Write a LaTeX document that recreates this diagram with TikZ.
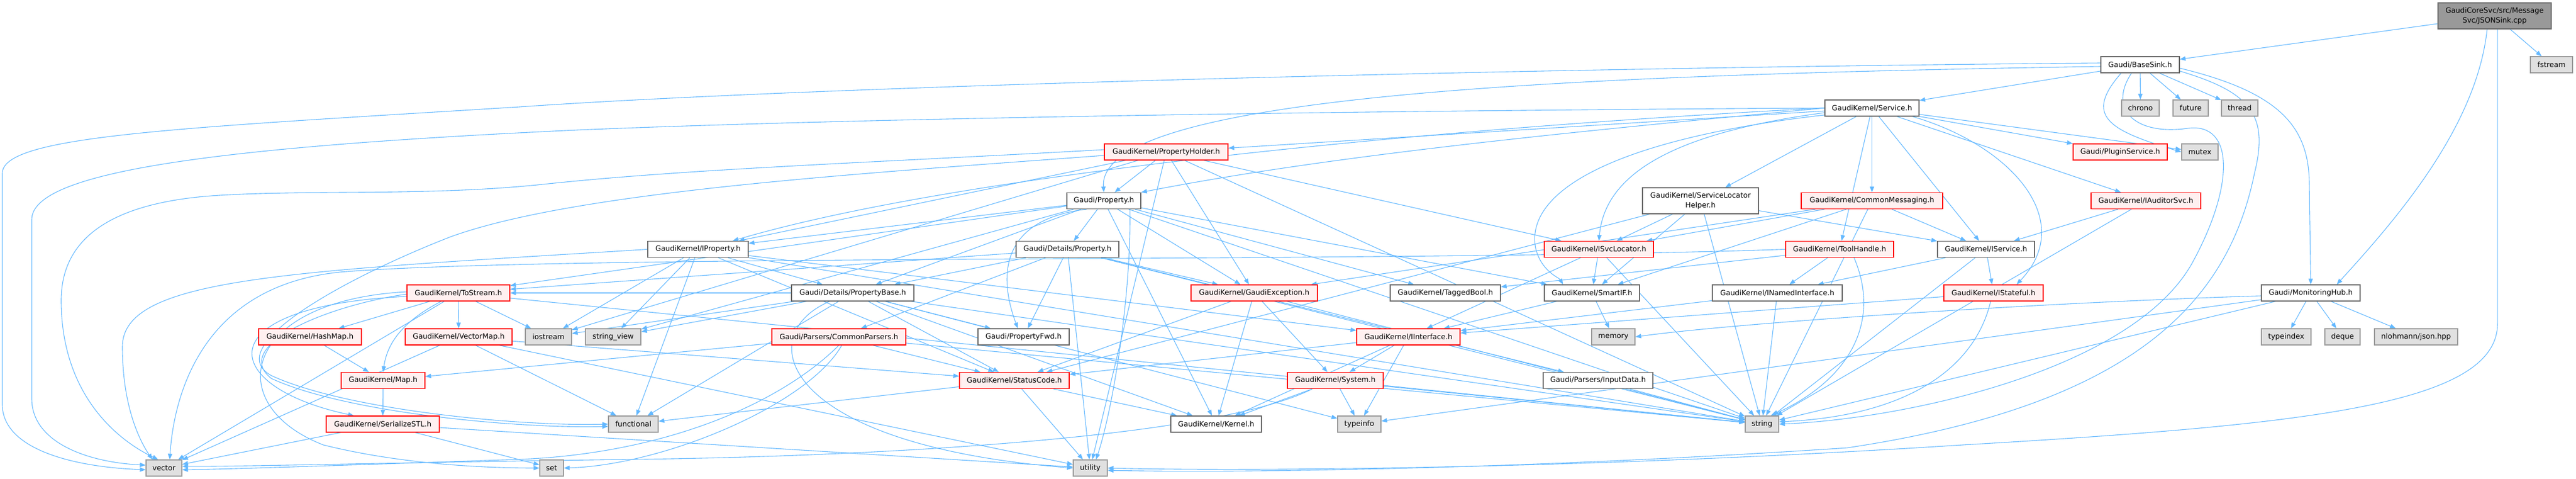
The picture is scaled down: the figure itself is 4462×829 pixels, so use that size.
\documentclass[tikz,border=0pt]{standalone}
\usepackage{fontspec}
\setmainfont{DejaVu Sans}
\usetikzlibrary{arrows.meta}
\definecolor{edgecol}{HTML}{63B8FF}
\definecolor{redfill}{HTML}{FFF0F0}
\definecolor{redline}{HTML}{FF0000}
\definecolor{grayfill}{HTML}{E0E0E0}
\definecolor{grayline}{HTML}{999999}
\definecolor{rootfill}{HTML}{999999}
\definecolor{wline}{HTML}{666666}
\pgfdeclarelayer{background}
\pgfsetlayers{background,main}
\tikzset{
  nbase/.style={rectangle, inner sep=0pt, minimum height=28bp, font=\fontsize{12.6}{17}\selectfont, line width=1.3bp, align=center},
  wbox/.style={nbase, draw=wline, fill=white},
  rbox/.style={nbase, draw=redline, fill=redfill},
  gbox/.style={nbase, draw=grayline, fill=grayfill},
  rootbox/.style={nbase, draw=wline, fill=rootfill, minimum height=45bp},
  dep/.style={draw=edgecol, line width=1.1bp, -{Triangle[length=10bp,width=7.5bp]}},
}
\begin{document}
\begin{tikzpicture}[x=1bp,y=-1bp]
\useasboundingbox (0,0) rectangle (4462,829);
\node[rootbox, minimum width=196bp] (jsonsink) at (4321,27.5) {GaudiCoreSvc/src/Message\\Svc/JSONSink.cpp};
\node[wbox, minimum width=136bp] (basesink) at (3707,112) {Gaudi/BaseSink.h};
\node[gbox, minimum width=73bp] (fstream) at (4419.5,112) {fstream};
\node[gbox, minimum width=65bp] (chrono) at (3707.5,187) {chrono};
\node[gbox, minimum width=61bp] (future) at (3794.5,187) {future};
\node[gbox, minimum width=63bp] (thread) at (3879.5,187) {thread};
\node[wbox, minimum width=163bp] (service) at (3242.5,187) {GaudiKernel/Service.h};
\node[rbox, minimum width=163bp] (pluginsvc) at (3672.5,263) {Gaudi/PluginService.h};
\node[gbox, minimum width=63bp] (mutex) at (3810.5,263) {mutex};
\node[rbox, minimum width=214bp] (propholder) at (2020,263) {GaudiKernel/PropertyHolder.h};
\node[wbox, minimum width=128bp] (property) at (1912,347.5) {Gaudi/Property.h};
\node[wbox, minimum width=201bp, minimum height=45bp] (slhelper) at (2945.5,347.5) {GaudiKernel/ServiceLocator\\Helper.h};
\node[rbox, minimum width=245bp] (commonmsg) at (3242.5,347.5) {GaudiKernel/CommonMessaging.h};
\node[rbox, minimum width=190bp] (iauditor) at (3717,347.5) {GaudiKernel/IAuditorSvc.h};
\node[wbox, minimum width=174bp] (iproperty) at (1209,431.5) {GaudiKernel/IProperty.h};
\node[wbox, minimum width=178bp] (detprop) at (1849,431.5) {Gaudi/Details/Property.h};
\node[rbox, minimum width=189bp] (isvcloc) at (2769.5,431.5) {GaudiKernel/ISvcLocator.h};
\node[rbox, minimum width=187bp] (toolhandle) at (3186.5,431.5) {GaudiKernel/ToolHandle.h};
\node[wbox, minimum width=168bp] (iservice) at (3440,431.5) {GaudiKernel/IService.h};
\node[rbox, minimum width=178bp] (tostream) at (794,507) {GaudiKernel/ToStream.h};
\node[wbox, minimum width=212bp] (propbase) at (1477,507) {Gaudi/Details/PropertyBase.h};
\node[rbox, minimum width=219bp] (gaudiexc) at (2172.5,507) {GaudiKernel/GaudiException.h};
\node[wbox, minimum width=191bp] (taggedbool) at (2503.5,507) {GaudiKernel/TaggedBool.h};
\node[wbox, minimum width=165bp] (smartif) at (2757.5,507) {GaudiKernel/SmartIF.h};
\node[wbox, minimum width=225bp] (inamed) at (3078.5,507) {GaudiKernel/INamedInterface.h};
\node[rbox, minimum width=172bp] (istateful) at (3453,507) {GaudiKernel/IStateful.h};
\node[wbox, minimum width=171bp] (monhub) at (4002.5,507) {Gaudi/MonitoringHub.h};
\node[rbox, minimum width=178bp] (hashmap) at (537,583) {GaudiKernel/HashMap.h};
\node[rbox, minimum width=185bp] (vectormap) at (794.5,583) {GaudiKernel/VectorMap.h};
\node[gbox, minimum width=80bp] (iostream) at (950,583) {iostream};
\node[gbox, minimum width=96bp] (stringview) at (1062,583) {string\_view};
\node[rbox, minimum width=232bp] (commonparsers) at (1453,583) {Gaudi/Parsers/CommonParsers.h};
\node[wbox, minimum width=158bp] (propfwd) at (1773,583) {Gaudi/PropertyFwd.h};
\node[rbox, minimum width=179bp] (iinterface) at (2439.5,583) {GaudiKernel/IInterface.h};
\node[gbox, minimum width=75bp] (memory) at (2794.5,583) {memory};
\node[gbox, minimum width=86bp] (typeindex) at (3960,583) {typeindex};
\node[gbox, minimum width=61bp] (deque) at (4057.5,583) {deque};
\node[gbox, minimum width=144bp] (json) at (4185,583) {nlohmann/json.hpp};
\node[rbox, minimum width=145bp] (map) at (663.5,658.5) {GaudiKernel/Map.h};
\node[rbox, minimum width=190bp] (statuscode) at (1757,658.5) {GaudiKernel/StatusCode.h};
\node[rbox, minimum width=166bp] (system) at (2313,658.5) {GaudiKernel/System.h};
\node[wbox, minimum width=190bp] (inputdata) at (2768,658.5) {Gaudi/Parsers/InputData.h};
\node[rbox, minimum width=196bp] (serializestl) at (663,734) {GaudiKernel/SerializeSTL.h};
\node[gbox, minimum width=86bp] (functional) at (1097,734) {functional};
\node[wbox, minimum width=157bp] (kernel) at (2106.5,734) {GaudiKernel/Kernel.h};
\node[gbox, minimum width=75bp] (typeinfo) at (2354.5,734) {typeinfo};
\node[gbox, minimum width=58bp] (string) at (3052,734) {string};
\node[gbox, minimum width=62bp] (vector) at (284,810) {vector};
\node[gbox, minimum width=41bp] (set) at (955.5,810) {set};
\node[gbox, minimum width=59bp] (utility) at (1888.5,810) {utility};

\begin{pgfonlayer}{background}
% JSONSink.cpp
\draw[dep] (jsonsink) -- (basesink);
\draw[dep] (jsonsink) -- (fstream);
\draw[dep] ([xshift=-13bp]jsonsink.south) .. controls (4290,220) and (4150,380) .. ([xshift=45bp]monhub.north);
\draw[dep] ([xshift=5bp]jsonsink.south) -- (4326,560) .. controls (4326,700) and (4000,735) .. (3400,770) .. controls (2700,815) and (2100,815) .. (utility.east);
% BaseSink.h
\draw[dep] ([yshift=3bp]basesink.west) .. controls (2600,118) and (1400,150) .. (900,185) .. controls (300,222) and (4,235) .. (4,300) -- (4,700) .. controls (4,775) and (120,808) .. ([yshift=-3bp]vector.west);
\draw[dep] ([yshift=-3bp]basesink.west) .. controls (2700,130) and (1900,165) .. (property.north);
\draw[dep] (basesink) -- (service);
\draw[dep] (basesink) -- (chrono);
\draw[dep] (basesink) -- (future);
\draw[dep] (basesink) -- (thread);
\draw[dep] ([xshift=-33bp]basesink.south) .. controls (3610,200) and (3650,225) .. (mutex.west);
\draw[dep] ([xshift=-15bp]basesink.south) .. controls (3650,190) and (3700,235) .. (3790,222) .. controls (3870,212) and (3870,320) .. (3800,450) .. controls (3700,640) and (3300,725) .. (string.east);
\draw[dep] ([yshift=-6bp]basesink.east) .. controls (3950,160) and (4000,220) .. (4000,320) -- (monhub.north);
\draw[dep] ([yshift=-11bp]basesink.east) .. controls (3900,160) and (3930,200) .. (3905,300) .. controls (3860,520) and (3700,700) .. (3200,775) .. controls (2600,815) and (2100,818) .. ([yshift=-4bp]utility.east);
% Service.h
\draw[dep] (service.west) .. controls (2600,190) and (1600,200) .. (1000,225) .. controls (350,255) and (55,300) .. (55,380) -- (55,690) .. controls (55,765) and (150,800) .. ([yshift=5bp]vector.west);
\draw[dep] (service) -- (propholder);
\draw[dep] (service.west) .. controls (2700,230) and (2300,270) .. (property.north east);
\draw[dep] (service.west) .. controls (2600,215) and (1700,290) .. ([xshift=60bp]iproperty.north);
\draw[dep] (service) -- (slhelper);
\draw[dep] (service) -- (commonmsg);
\draw[dep] ([yshift=-8bp]service.west) .. controls (2900,230) and (2780,300) .. (isvcloc.north);
\draw[dep] (service) -- (iservice);
\draw[dep] ([xshift=70bp]service.south) .. controls (3480,250) and (3600,380) .. ([xshift=40bp]istateful.north);
\draw[dep] (service) -- (iauditor);
\draw[dep] (service) -- (pluginsvc);
\draw[dep] (service) -- (mutex);
\draw[dep] ([yshift=-12bp]service.west) .. controls (2800,240) and (2640,330) .. (2660,430) .. controls (2670,470) and (2700,480) .. ([xshift=-50bp]smartif.north);
\draw[dep] (service) -- (toolhandle);
% PropertyHolder.h
\draw[dep] ([yshift=4bp]propholder.west) .. controls (1500,282) and (1200,292) .. (950,318) .. controls (750,340) and (550,328) .. (380,338) .. controls (180,350) and (106,420) .. (106,520) .. controls (106,680) and (200,760) .. ([xshift=-10bp]vector.north);
\draw[dep] ([yshift=-6bp]propholder.west) .. controls (1500,300) and (1000,330) .. (780,410) .. controls (600,480) and (380,600) .. (470,650) .. controls (600,710) and (900,738) .. (functional.west);
\draw[dep] (propholder) -- (property);
\draw[dep] (propholder) -- (iproperty);
\draw[dep] (propholder) -- (gaudiexc);
\draw[dep] (propholder) -- (isvcloc);
\draw[dep] (propholder) -- (iostream);
\draw[dep] (propholder) -- (string);
\draw[dep] (propholder) -- (utility);
% MonitoringHub.h
\draw[dep] ([yshift=-5bp]monhub.west) .. controls (3500,525) and (3000,560) .. (memory.east);
\draw[dep] (monhub) -- (typeinfo);
\draw[dep] (monhub) -- (string);
\draw[dep] (monhub) -- (typeindex);
\draw[dep] (monhub) -- (deque);
\draw[dep] (monhub) -- (json);
% Property.h
\draw[dep] (property) -- (detprop);
\draw[dep] (property) -- (propbase);
\draw[dep] ([xshift=-30bp]property.south) .. controls (1730,380) and (1730,480) .. ([xshift=-10bp]propfwd.north);
\draw[dep] (property) -- (iproperty);
\draw[dep] (property) -- (smartif);
\draw[dep] (property) -- (taggedbool);
\draw[dep] (property) -- (tostream);
\draw[dep] (property) -- (gaudiexc);
\draw[dep] (property) -- (kernel);
\draw[dep] (property) -- (string);
\draw[dep] (property) -- (stringview);
\draw[dep] ([xshift=45bp]property.south) .. controls (1960,500) and (1930,700) .. ([xshift=10bp]utility.north);
% ServiceLocatorHelper.h
\draw[dep] (slhelper) -- (isvcloc);
\draw[dep] (slhelper) -- (smartif);
\draw[dep] (slhelper) -- (iservice);
\draw[dep] (slhelper) -- (string);
\draw[dep] (slhelper) -- (statuscode);
% CommonMessaging.h
\draw[dep] (commonmsg) -- (isvcloc);
\draw[dep] (commonmsg) -- (smartif);
\draw[dep] (commonmsg) -- (iservice);
\draw[dep] (commonmsg) -- (gaudiexc);
\draw[dep] (commonmsg) -- (string);
% IAuditorSvc.h
\draw[dep] (iauditor) -- (iservice);
\draw[dep] (iauditor) -- (string);
% IProperty.h
\draw[dep] (iproperty.west) .. controls (500,470) and (212,480) .. (212,600) .. controls (212,700) and (240,760) .. ([xshift=-20bp]vector.north);
\draw[dep] (iproperty) -- (iostream);
\draw[dep] (iproperty) -- (stringview);
\draw[dep] (iproperty) -- (functional);
\draw[dep] (iproperty) -- (propbase);
\draw[dep] (iproperty) -- (iinterface);
\draw[dep] (iproperty) -- (statuscode);
\draw[dep] (iproperty) -- (string);
% Details/Property.h
\draw[dep] (detprop) -- (tostream);
\draw[dep] (detprop) -- (propbase);
\draw[dep] (detprop) -- (commonparsers);
\draw[dep] (detprop) -- (propfwd);
\draw[dep] (detprop) -- (utility);
\draw[dep] (detprop) -- (inputdata);
\draw[dep] (detprop) -- (gaudiexc);
\draw[dep] (detprop) -- (string);
% ISvcLocator.h
\draw[dep] (isvcloc) -- (iinterface);
\draw[dep] (isvcloc) -- (smartif);
\draw[dep] (isvcloc) -- (string);
% ToolHandle.h
\draw[dep] (toolhandle.west) .. controls (2400,455) and (1000,440) .. (600,470) .. controls (340,490) and (300,700) .. ([xshift=10bp]vector.north);
\draw[dep] (toolhandle) -- (taggedbool);
\draw[dep] (toolhandle) -- (inamed);
\draw[dep] ([xshift=25bp]toolhandle.south) .. controls (3260,560) and (3200,660) .. ([xshift=15bp]string.north);
% IService.h
\draw[dep] (iservice) -- (inamed);
\draw[dep] (iservice) -- (istateful);
\draw[dep] (iservice) -- (string);
% ToStream.h
\draw[dep] (tostream) -- (hashmap);
\draw[dep] (tostream) -- (vectormap);
\draw[dep] ([xshift=-30bp]tostream.south) .. controls (690,560) and (670,600) .. (map.north);
\draw[dep] ([yshift=-6bp]tostream.west) .. controls (350,530) and (380,670) .. ([xshift=-50bp]serializestl.north);
\draw[dep] (tostream) -- (iostream);
\draw[dep] ([yshift=2bp]tostream.west) .. controls (420,520) and (380,700) .. (560,770) .. controls (700,805) and (850,810) .. (set.west);
\draw[dep] (tostream) -- (vector);
\draw[dep] ([yshift=-2bp]tostream.west) .. controls (560,530) and (400,600) .. (470,655) .. controls (600,715) and (900,742) .. ([yshift=-4bp]functional.west);
\draw[dep] (tostream) -- (string);
% PropertyBase.h
\draw[dep] (propbase) -- (tostream);
\draw[dep] (propbase) -- (iostream);
\draw[dep] (propbase) -- (stringview);
\draw[dep] (propbase) -- (functional);
\draw[dep] ([xshift=-40bp]propbase.south) .. controls (1300,580) and (1350,770) .. (utility.west);
\draw[dep] (propbase) -- (statuscode);
\draw[dep] (propbase) -- (propfwd);
\draw[dep] (propbase) -- (kernel);
\draw[dep] (propbase) -- (string);
\draw[dep] (propbase) -- (typeinfo);
% GaudiException.h
\draw[dep] (gaudiexc) -- (statuscode);
\draw[dep] (gaudiexc) -- (kernel);
\draw[dep] (gaudiexc) -- (system);
\draw[dep] (gaudiexc) -- (string);
% SmartIF.h
\draw[dep] (smartif) -- (iinterface);
\draw[dep] (smartif) -- (memory);
% INamedInterface.h
\draw[dep] (inamed) -- (iinterface);
\draw[dep] (inamed) -- (string);
% IStateful.h
\draw[dep] (istateful) -- (iinterface);
\draw[dep] ([xshift=-5bp]istateful.south) .. controls (3420,640) and (3300,720) .. ([yshift=4bp]string.east);
% HashMap.h, VectorMap.h
\draw[dep] (hashmap) -- (map);
\draw[dep] (vectormap) -- (vector);
\draw[dep] (vectormap) -- (functional);
\draw[dep] (vectormap) -- (utility);
\draw[dep] (vectormap) -- (statuscode);
% CommonParsers.h
\draw[dep] (commonparsers) -- (map);
\draw[dep] (commonparsers.south) .. controls (1350,700) and (1150,785) .. (900,795) .. controls (600,805) and (400,812) .. ([yshift=-3bp]vector.east);
\draw[dep] ([xshift=5bp]commonparsers.south) .. controls (1400,700) and (1150,805) .. (set.east);
\draw[dep] (commonparsers) -- (statuscode);
\draw[dep] (commonparsers) -- (string);
% IInterface.h
\draw[dep] (iinterface) -- (kernel);
\draw[dep] (iinterface) -- (statuscode);
\draw[dep] (iinterface) -- (system);
\draw[dep] (iinterface) -- (typeinfo);
% Map.h
\draw[dep] (map) -- (serializestl);
% StatusCode.h
\draw[dep] (statuscode) -- (functional);
\draw[dep] (statuscode) -- (kernel);
\draw[dep] (statuscode) -- (utility);
% System.h
\draw[dep] (system) -- (kernel);
\draw[dep] (system) -- (typeinfo);
\draw[dep] (system) -- (string);
\draw[dep] ([xshift=-40bp]system.south) .. controls (2100,760) and (1500,790) .. (1100,795) .. controls (700,800) and (400,808) .. ([yshift=3bp]vector.east);
% InputData.h
\draw[dep] (inputdata) -- (string);
% SerializeSTL.h
\draw[dep] (serializestl) -- (vector);
\draw[dep] (serializestl) -- (set);
\draw[dep] (serializestl) -- (utility);
\end{pgfonlayer}
\end{tikzpicture}
\end{document}
